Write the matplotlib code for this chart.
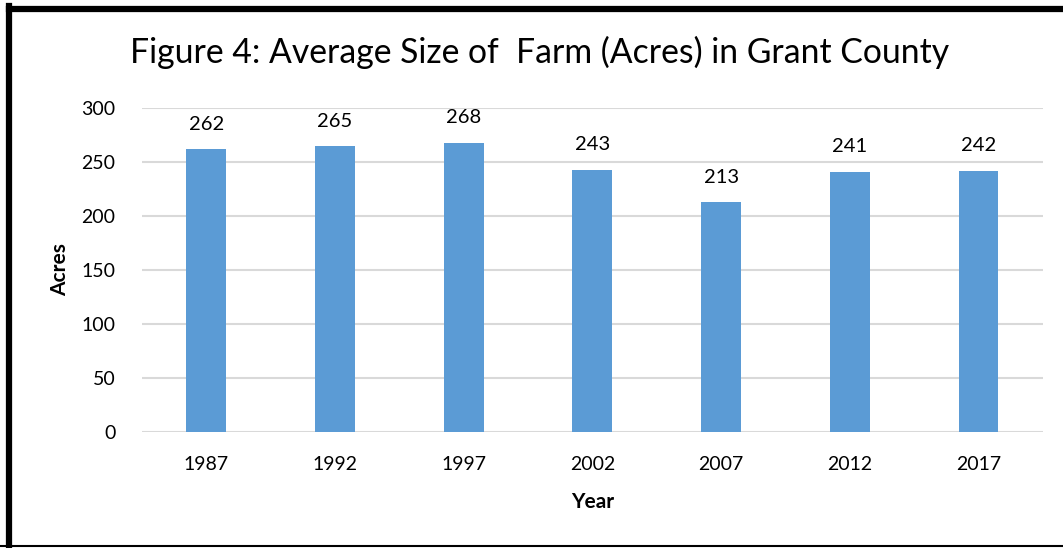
import matplotlib.pyplot as plt
from matplotlib.lines import Line2D

years = ["1987", "1992", "1997", "2002", "2007", "2012", "2017"]
acres = [262, 265, 268, 243, 213, 241, 242]

plt.rcParams['font.family'] = ['Lato', 'DejaVu Sans']

fig = plt.figure(figsize=(10.63, 5.48), dpi=100)
ax = fig.add_axes([0.1336, 0.2117, 0.981 - 0.1336, 0.803 - 0.2117])

x = range(len(years))
ax.bar(x, acres, width=0.31, color="#5b9bd5", zorder=3)
for xi, v in zip(x, acres):
    ax.text(xi, v + 15, str(v), ha="center", va="bottom", fontsize=14.5, color="black")

ax.set_xlim(-0.5, len(years) - 0.5)
ax.set_ylim(0, 300)
ax.set_yticks(range(0, 301, 50))
ax.set_xticks(list(x))
ax.set_xticklabels(years)
ax.tick_params(axis="both", length=0, labelsize=14, colors="black")
ax.tick_params(axis="x", pad=17)
ax.tick_params(axis="y", pad=19)
ax.grid(axis="y", color="#d9d9d9", linewidth=1.5, zorder=0)
for s in ax.spines.values():
    s.set_visible(False)

ax.set_xlabel("Year", fontsize=15, fontweight="bold", labelpad=14)
ax.set_ylabel("Acres", fontsize=15, fontweight="bold", labelpad=8)
fig.text(0.508, 0.905, "Figure 4: Average Size of  Farm (Acres) in Grant County",
         ha="center", va="center", fontsize=24.3)

# frame around the figure (left/top thick, bottom thin)
fig.add_artist(Line2D([9 / 1063, 9 / 1063], [0, 1 - 6 / 548], color="black", linewidth=4.5,
                      transform=fig.transFigure, solid_capstyle="projecting"))
fig.add_artist(Line2D([9 / 1063, 1], [1 - 9 / 548, 1 - 9 / 548], color="black", linewidth=4.5,
                      transform=fig.transFigure, solid_capstyle="projecting"))
fig.add_artist(Line2D([0, 1], [2 / 548, 2 / 548], color="black", linewidth=1.5,
                      transform=fig.transFigure))

fig.savefig("out.png", dpi=100)
